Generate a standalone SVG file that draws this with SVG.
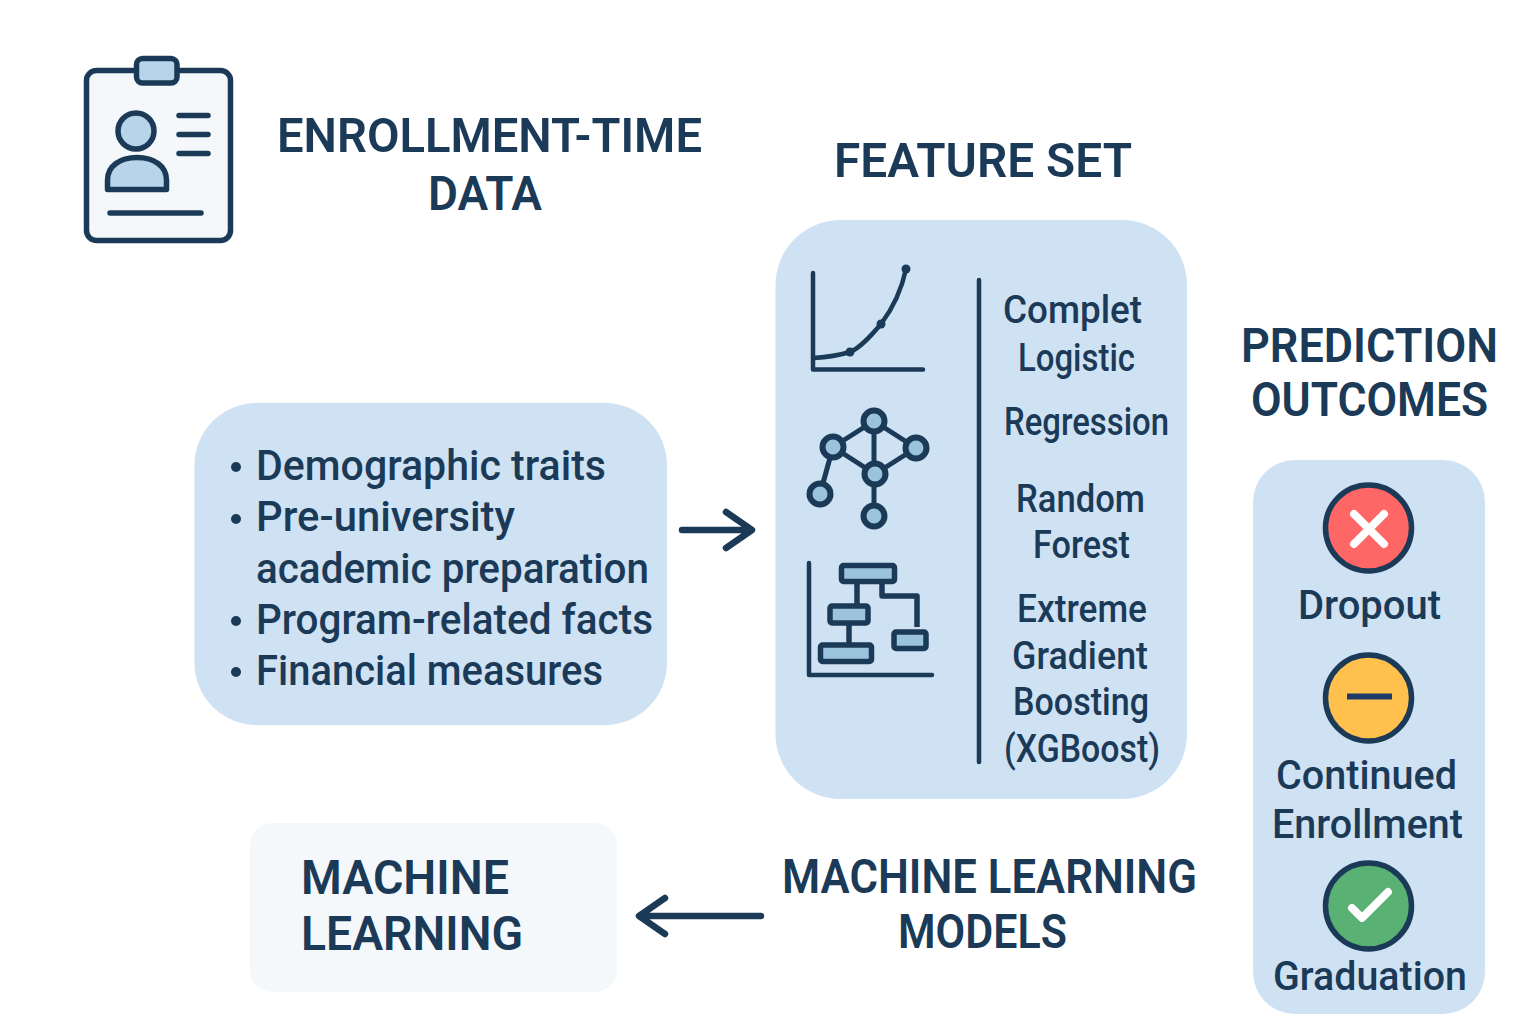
<svg xmlns="http://www.w3.org/2000/svg" width="1536" height="1024" viewBox="0 0 1536 1024">
<style>
text{font-family:"Roboto","Noto Sans",sans-serif;fill:#1b3a57}
.h{font-size:49px;font-weight:600}
.l{font-size:43px;font-weight:500}
.f{font-size:38px;font-weight:500}
.o{font-size:41px;font-weight:500}
.box{fill:#cfe2f3}
.ln{fill:none;stroke:#1b3a57;stroke-linecap:round;stroke-linejoin:round}
.n{fill:#9cc3dd;stroke:#1b3a57;stroke-width:6}
.t{fill:#9cc3dd;stroke:#1b3a57;stroke-width:5.500;stroke-linejoin:round}
</style>
<rect width="1536" height="1024" fill="#ffffff"/>
<g id="enrollment-icon">
<rect x="86.500" y="70.500" width="144" height="170" rx="10" fill="#f4f8fa" stroke="#1b3a57" stroke-width="5.500"/>
<rect x="136.500" y="58.500" width="40.500" height="24.500" rx="6" fill="#b8d4ea" stroke="#1b3a57" stroke-width="5.500"/>
<circle cx="136" cy="131" r="18" fill="#b8d4ea" stroke="#1b3a57" stroke-width="5.500"/>
<path d="M107.500 189.500V180C107.500 166 120 157.500 137 157.500S166.500 166 166.500 180V189.500Z" fill="#b8d4ea" stroke="#1b3a57" stroke-width="5.500" stroke-linejoin="round"/>
<path class="ln" stroke-width="5.500" d="M179 115.500H208M179 134.500H208M179 153.500H208M110 213H201"/>
</g>
<g id="enrollment-title">
<text class="h" x="277" y="152" textLength="425" lengthAdjust="spacingAndGlyphs">ENROLLMENT-TIME</text>
<text class="h" x="428" y="210" textLength="114" lengthAdjust="spacingAndGlyphs">DATA</text>
</g>
<g id="feature-title"><text class="h" x="834" y="177" textLength="298" lengthAdjust="spacingAndGlyphs">FEATURE SET</text></g>
<g id="data-list">
<rect class="box" x="194.500" y="403" width="472.500" height="322" rx="62"/>
<g fill="#1b3a57"><circle cx="236" cy="467" r="5"/><circle cx="236" cy="519" r="5"/><circle cx="236" cy="621" r="5"/><circle cx="236" cy="672" r="5"/></g>
<text class="l" x="256" y="480" textLength="350" lengthAdjust="spacingAndGlyphs">Demographic traits</text>
<text class="l" x="256" y="531" textLength="259" lengthAdjust="spacingAndGlyphs">Pre-university</text>
<text class="l" x="256" y="583" textLength="393" lengthAdjust="spacingAndGlyphs">academic preparation</text>
<text class="l" x="256" y="634" textLength="397" lengthAdjust="spacingAndGlyphs">Program-related facts</text>
<text class="l" x="256" y="685" textLength="347" lengthAdjust="spacingAndGlyphs">Financial measures</text>
</g>
<g id="feature-set">
<rect class="box" x="775.500" y="220" width="411.500" height="579" rx="65"/>
<path class="ln" stroke-width="4.500" d="M813 273V369.500H923"/>
<path class="ln" stroke-width="4.500" d="M814 358C830 357 840 355 850 352C860 348 870 337 881 324C893 308 902 288 906 269"/>
<g fill="#1b3a57"><circle cx="850" cy="352" r="4.500"/><circle cx="881" cy="324" r="4.500"/><circle cx="906" cy="269" r="4.500"/></g>
<path class="ln" stroke-width="5" d="M874 421L833 447L875 474L916 448L874 421V474V516M833 447L820 494"/>
<circle class="n" cx="874" cy="421" r="10.500"/><circle class="n" cx="833" cy="447" r="10.500"/><circle class="n" cx="916" cy="448" r="10.500"/><circle class="n" cx="875" cy="474" r="10.500"/><circle class="n" cx="820" cy="494" r="10.500"/><circle class="n" cx="874" cy="516" r="10.500"/>
<path class="ln" stroke-width="4.500" d="M809 563V675H932"/>
<path fill="none" stroke="#1b3a57" stroke-width="5.500" stroke-linejoin="round" d="M857 583V604M849 625V643M882 583V596H917V627"/>
<rect class="t" x="841.500" y="565.500" width="53" height="16" rx="2"/>
<rect class="t" x="830" y="606" width="38" height="17" rx="2"/>
<rect class="t" x="820.500" y="645" width="51" height="16.500" rx="2"/>
<rect class="t" x="894" y="632" width="32" height="16.500" rx="2"/>
<path class="ln" stroke-width="4.500" d="M979 280V762"/>
<text class="f" x="1003" y="323" textLength="139" lengthAdjust="spacingAndGlyphs">Complet</text>
<text class="f" x="1018" y="371" textLength="117" lengthAdjust="spacingAndGlyphs">Logistic</text>
<text class="f" x="1004" y="435" textLength="165" lengthAdjust="spacingAndGlyphs">Regression</text>
<text class="f" x="1016" y="512" textLength="129" lengthAdjust="spacingAndGlyphs">Random</text>
<text class="f" x="1033" y="558" textLength="97" lengthAdjust="spacingAndGlyphs">Forest</text>
<text class="f" x="1017" y="622" textLength="130" lengthAdjust="spacingAndGlyphs">Extreme</text>
<text class="f" x="1012" y="669" textLength="136" lengthAdjust="spacingAndGlyphs">Gradient</text>
<text class="f" x="1013" y="715" textLength="136" lengthAdjust="spacingAndGlyphs">Boosting</text>
<text class="f" x="1004" y="762" textLength="156" lengthAdjust="spacingAndGlyphs">(XGBoost)</text>
</g>
<g id="outcomes-title">
<text class="h" x="1241" y="362" textLength="257" lengthAdjust="spacingAndGlyphs">PREDICTION</text>
<text class="h" x="1251" y="416" textLength="237" lengthAdjust="spacingAndGlyphs">OUTCOMES</text>
</g>
<g id="outcomes">
<rect class="box" x="1253" y="460" width="232" height="554" rx="42"/>
<circle cx="1368.500" cy="528" r="43" fill="#ff6666" stroke="#1b3a57" stroke-width="5.500"/>
<path d="M1354 514L1384 544M1384 514L1354 544" fill="none" stroke="#fff" stroke-width="8" stroke-linecap="round"/>
<text class="o" x="1298" y="619" textLength="143" lengthAdjust="spacingAndGlyphs">Dropout</text>
<circle cx="1368.500" cy="698" r="43" fill="#ffc04d" stroke="#1b3a57" stroke-width="5.500"/>
<rect x="1347" y="693.500" width="45" height="6" fill="#1f3c68"/>
<text class="o" x="1276" y="789" textLength="181" lengthAdjust="spacingAndGlyphs">Continued</text>
<text class="o" x="1272" y="838" textLength="191" lengthAdjust="spacingAndGlyphs">Enrollment</text>
<circle cx="1368.500" cy="906" r="43" fill="#5ab174" stroke="#1b3a57" stroke-width="5.500"/>
<path d="M1352 908L1362 918L1388 892" fill="none" stroke="#fff" stroke-width="8" stroke-linecap="round" stroke-linejoin="round"/>
<text class="o" x="1273" y="990" textLength="194" lengthAdjust="spacingAndGlyphs">Graduation</text>
</g>
<g id="machine-learning">
<rect x="250" y="823" width="367" height="169" rx="22" fill="#f4f8fa"/>
<text class="h" x="301" y="894" textLength="208" lengthAdjust="spacingAndGlyphs">MACHINE</text>
<text class="h" x="301" y="950" textLength="222" lengthAdjust="spacingAndGlyphs">LEARNING</text>
</g>
<g id="models-title">
<text class="h" x="782" y="893" textLength="415" lengthAdjust="spacingAndGlyphs">MACHINE LEARNING</text>
<text class="h" x="898" y="948" textLength="169" lengthAdjust="spacingAndGlyphs">MODELS</text>
</g>
<g id="connectors">
<path class="ln" stroke-width="6.500" d="M682 530H751M726 512L752 530L726 548"/>
<path class="ln" stroke-width="6.500" d="M761 916H641M665 898L639 916L665 934"/>
</g>
</svg>
